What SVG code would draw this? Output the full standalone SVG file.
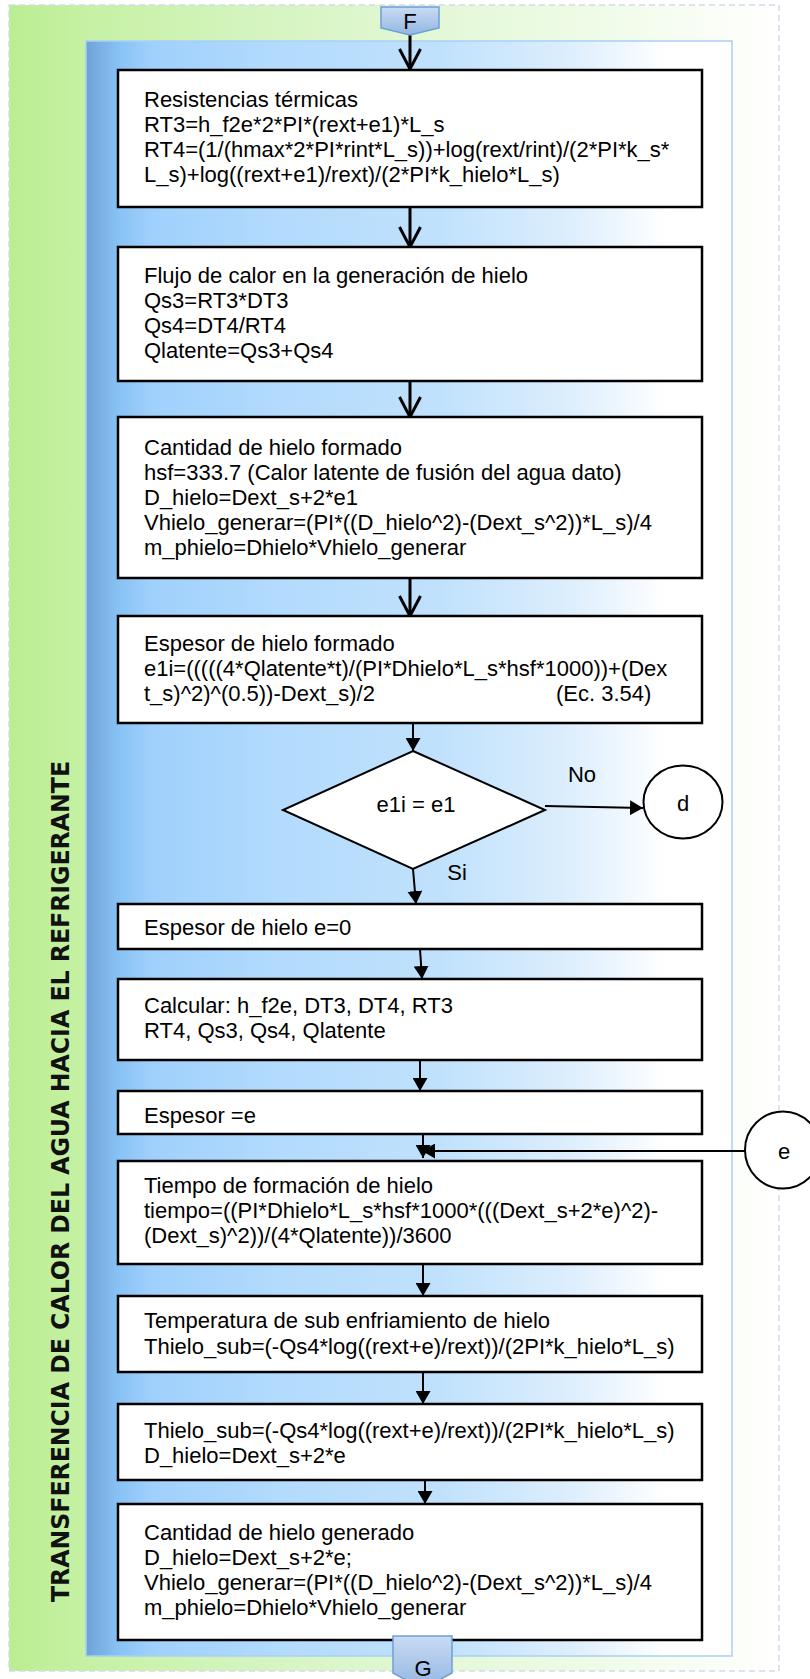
<svg xmlns="http://www.w3.org/2000/svg" width="810" height="1679" viewBox="0 0 810 1679">
  <defs>
    <linearGradient id="gOuter" x1="0" y1="0" x2="1" y2="0">
      <stop offset="0" stop-color="#bbed92"/>
      <stop offset="0.1" stop-color="#c6f1a4"/>
      <stop offset="0.3" stop-color="#d3f4bd"/>
      <stop offset="0.55" stop-color="#e3f8d6"/>
      <stop offset="0.75" stop-color="#eefbe6"/>
      <stop offset="0.92" stop-color="#fafef7"/>
      <stop offset="1" stop-color="#ffffff"/>
    </linearGradient>
    <linearGradient id="gInner" x1="0" y1="0" x2="1" y2="0">
      <stop offset="0" stop-color="#6fa2d6"/>
      <stop offset="0.05" stop-color="#88c2f5"/>
      <stop offset="0.1" stop-color="#9fd0fc"/>
      <stop offset="0.3" stop-color="#b3dbfd"/>
      <stop offset="0.55" stop-color="#c0e1fc"/>
      <stop offset="0.75" stop-color="#ddeefd"/>
      <stop offset="0.9" stop-color="#ffffff"/>
      <stop offset="1" stop-color="#ffffff"/>
    </linearGradient>
    <linearGradient id="gConn" x1="0" y1="0" x2="0" y2="1">
      <stop offset="0" stop-color="#c8dbf3"/>
      <stop offset="1" stop-color="#93b6e3"/>
    </linearGradient>
    <marker id="chev" viewBox="0 0 24 24" refX="21" refY="12" markerWidth="24" markerHeight="24" markerUnits="userSpaceOnUse" orient="auto">
      <path d="M1,1.5 L21,12 L1,22.5" fill="none" stroke="#000" stroke-width="3"/>
    </marker>
    <marker id="tri" viewBox="0 0 13 15" refX="13" refY="7.5" markerWidth="13" markerHeight="15" markerUnits="userSpaceOnUse" orient="auto">
      <path d="M0,0 L13,7.5 L0,15 z" fill="#000"/>
    </marker>
    <style>
      .box { fill: #ffffff; stroke: #000; stroke-width: 2.5; }
      .txt { font-family: "Liberation Sans", Arial, sans-serif; font-size: 22px; fill: #000; }
      .lbl { font-family: "Liberation Sans", Arial, sans-serif; font-size: 22px; fill: #000; text-anchor: middle; }
      .conn { fill: url(#gConn); stroke: #6f9fd8; stroke-width: 1.5; }
      .thick { stroke: #000; stroke-width: 3; fill: none; marker-end: url(#chev); }
      .thin { stroke: #000; stroke-width: 2; fill: none; marker-end: url(#tri); }
      .shape { fill: #ffffff; stroke: #000; stroke-width: 2; }
    </style>
  </defs>

  <!-- swimlane background -->
  <rect x="9" y="5" width="770" height="1666" fill="url(#gOuter)" stroke="#d3daee" stroke-width="1.5" stroke-dasharray="6 4"/>
  <rect x="86" y="41" width="646" height="1615" fill="url(#gInner)" stroke="#a9cff6" stroke-width="1.5"/>
  <text transform="translate(69,1181.5) rotate(-90)" text-anchor="middle" font-family="'DejaVu Sans', Verdana, sans-serif" font-weight="bold" font-size="25" fill="#111" textLength="841" lengthAdjust="spacingAndGlyphs">TRANSFERENCIA DE CALOR DEL AGUA HACIA EL REFRIGERANTE</text>

  <!-- connectors -->
  <g id="connectors">
    <path class="thick" d="M410,35 L410,69"/>
    <path class="thick" d="M410,207 L410,247"/>
    <path class="thick" d="M410,381 L410,417"/>
    <path class="thick" d="M410,578 L410,616"/>
    <path class="thin" d="M413,723 L413,751"/>
    <path class="thin" d="M545,806 L643,808"/>
    <path class="thin" d="M413,869 L416,904"/>
    <path class="thin" d="M420,949 L422,979"/>
    <path class="thin" d="M420,1060 L420,1091"/>
    <path class="thin" d="M423,1134 L423,1158"/>
    <path class="thin" d="M745,1151 L422,1151"/>
    <path class="thin" d="M423,1264 L423,1296"/>
    <path class="thin" d="M423,1372 L423,1404"/>
    <path class="thin" d="M425,1480 L425,1504"/>
    <text class="lbl" x="582" y="782">No</text>
    <text class="lbl" x="457" y="880">Si</text>
  </g>

  <g id="conn-F">
    <polygon class="conn" points="381,7 439,7 439,28 410,35 381,28"/>
    <text class="lbl" x="410" y="29" font-size="19">F</text>
  </g>

  <g id="n1">
    <rect class="box" x="118" y="70" width="584" height="137"/>
    <text class="txt" x="144" y="107">Resistencias térmicas<tspan x="144" dy="25">RT3=h_f2e*2*PI*(rext+e1)*L_s</tspan><tspan x="144" dy="25">RT4=(1/(hmax*2*PI*rint*L_s))+log(rext/rint)/(2*PI*k_s*</tspan><tspan x="144" dy="25">L_s)+log((rext+e1)/rext)/(2*PI*k_hielo*L_s)</tspan></text>
  </g>

  <g id="n2">
    <rect class="box" x="118" y="247" width="584" height="134"/>
    <text class="txt" x="144" y="283">Flujo de calor en la generación de hielo<tspan x="144" dy="25">Qs3=RT3*DT3</tspan><tspan x="144" dy="25">Qs4=DT4/RT4</tspan><tspan x="144" dy="25">Qlatente=Qs3+Qs4</tspan></text>
  </g>

  <g id="n3">
    <rect class="box" x="118" y="417" width="584" height="161"/>
    <text class="txt" x="144" y="455">Cantidad de hielo formado<tspan x="144" dy="25">hsf=333.7 (Calor latente de fusión del agua dato)</tspan><tspan x="144" dy="25">D_hielo=Dext_s+2*e1</tspan><tspan x="144" dy="25">Vhielo_generar=(PI*((D_hielo^2)-(Dext_s^2))*L_s)/4</tspan><tspan x="144" dy="25">m_phielo=Dhielo*Vhielo_generar</tspan></text>
  </g>

  <g id="n4">
    <rect class="box" x="118" y="616" width="584" height="107"/>
    <text class="txt" x="144" y="651">Espesor de hielo formado<tspan x="144" dy="25">e1i=(((((4*Qlatente*t)/(PI*Dhielo*L_s*hsf*1000))+(Dex</tspan><tspan x="144" dy="25">t_s)^2)^(0.5))-Dext_s)/2</tspan></text>
    <text class="txt" x="556" y="701">(Ec. 3.54)</text>
  </g>

  <g id="decision">
    <polygon class="shape" points="413,751 545,810 413,869 283,810"/>
    <text class="lbl" x="416" y="812">e1i = e1</text>
  </g>

  <g id="conn-d">
    <ellipse class="shape" cx="683" cy="802" rx="39.5" ry="36.5"/>
    <text class="lbl" x="683" y="811">d</text>
  </g>

  <g id="n5">
    <rect class="box" x="118" y="904" width="584" height="45"/>
    <text class="txt" x="144" y="935">Espesor de hielo e=0</text>
  </g>

  <g id="n6">
    <rect class="box" x="118" y="979" width="584" height="81"/>
    <text class="txt" x="144" y="1013">Calcular: h_f2e, DT3, DT4, RT3<tspan x="144" dy="25">RT4, Qs3, Qs4, Qlatente</tspan></text>
  </g>

  <g id="n7">
    <rect class="box" x="118" y="1091" width="584" height="43"/>
    <text class="txt" x="144" y="1123">Espesor =e</text>
  </g>

  <g id="conn-e">
    <ellipse class="shape" cx="783" cy="1150" rx="38" ry="38.5"/>
    <text class="lbl" x="784" y="1159">e</text>
  </g>

  <g id="n8">
    <rect class="box" x="118" y="1161" width="584" height="103"/>
    <text class="txt" x="144" y="1193">Tiempo de formación de hielo<tspan x="144" dy="25">tiempo=((PI*Dhielo*L_s*hsf*1000*(((Dext_s+2*e)^2)-</tspan><tspan x="144" dy="25">(Dext_s)^2))/(4*Qlatente))/3600</tspan></text>
  </g>

  <g id="n9">
    <rect class="box" x="118" y="1296" width="584" height="76"/>
    <text class="txt" x="144" y="1328">Temperatura de sub enfriamiento de hielo<tspan x="144" dy="26">Thielo_sub=(-Qs4*log((rext+e)/rext))/(2PI*k_hielo*L_s)</tspan></text>
  </g>

  <g id="n10">
    <rect class="box" x="118" y="1404" width="584" height="76"/>
    <text class="txt" x="144" y="1438">Thielo_sub=(-Qs4*log((rext+e)/rext))/(2PI*k_hielo*L_s)<tspan x="144" dy="25">D_hielo=Dext_s+2*e</tspan></text>
  </g>

  <g id="n11">
    <rect class="box" x="118" y="1504" width="584" height="136"/>
    <text class="txt" x="144" y="1540">Cantidad de hielo generado<tspan x="144" dy="25">D_hielo=Dext_s+2*e;</tspan><tspan x="144" dy="25">Vhielo_generar=(PI*((D_hielo^2)-(Dext_s^2))*L_s)/4</tspan><tspan x="144" dy="25">m_phielo=Dhielo*Vhielo_generar</tspan></text>
  </g>

  <g id="conn-G">
    <polygon class="conn" points="393,1636 452,1636 452,1673 422.5,1689 393,1673"/>
    <text class="lbl" x="423" y="1676">G</text>
  </g>
</svg>
